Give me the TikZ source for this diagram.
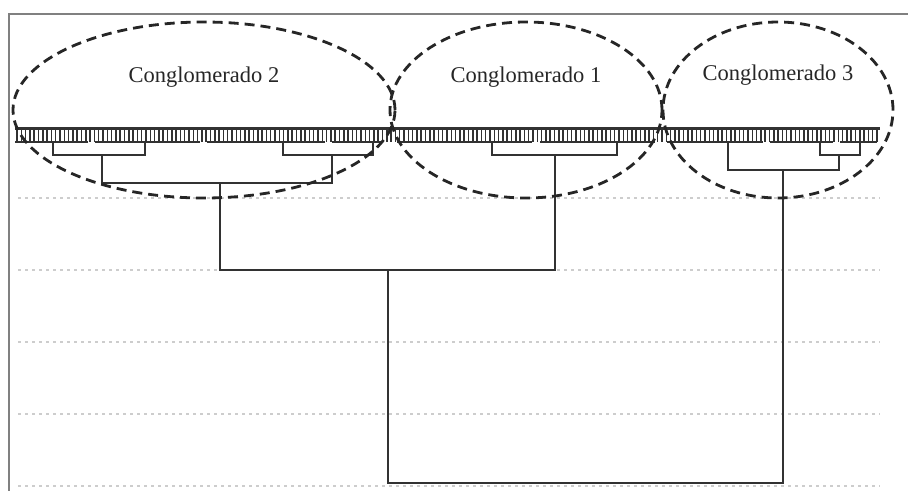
\documentclass[tikz,border=0pt]{standalone}
\usepackage{fontspec}
\setmainfont{Liberation Serif}
\usepackage{tikz}
\usetikzlibrary{positioning}
\usetikzlibrary{shapes.geometric}
\definecolor{framegray}{RGB}{128,128,128}
\definecolor{gridgray}{RGB}{205,205,205}
\definecolor{linkgray}{RGB}{50,50,50}
\tikzstyle{frameline}=[framegray, line width=2.2pt]
\tikzstyle{gridline}=[gridgray, line width=2.2pt, dash pattern=on 2.5pt off 4.5pt]
\tikzstyle{link}=[linkgray, line width=2.3pt]
\tikzstyle{leafline}=[linkgray, line width=1.4pt]
\tikzstyle{clusterline}=[draw, ellipse, black!85, line width=2.8pt, dash pattern=on 10pt off 6pt, inner sep=0pt]
\tikzstyle{clusterlabel}=[font=\fontsize{22.5}{26}\selectfont, black!85, inner sep=0pt]

\begin{document}
\begin{tikzpicture}[x=1pt, y=-1pt]
    \useasboundingbox (0,0) rectangle (908,491);
    % frame, only top and left edges show
    \draw[frameline] (908,14) -- (9,14) -- (9,491);
    % grid
    \foreach \gy in {198,270,342,414,486}
        \draw[gridline] (18,\gy) -- (880,\gy);
    % leaves
    \draw[leafline, line width=3pt] (15,128) -- (880,128);
    \foreach \tx in {17,21.3,...,878}
        \draw[leafline, line width=1.5pt] (\tx,128) -- (\tx,142);
    \foreach \sa/\sb in {15/88, 95/200, 207/325, 332/382, 397/532, 540/655, 667/763, 770/833, 840/877}
        \draw[leafline, line width=2.4pt] (\sa,142) -- (\sb,142);
    \coordinate (g1) at (53,142);
    \coordinate (g2) at (145,142);
    \coordinate (g3) at (283,142);
    \coordinate (g4) at (373,142);
    \coordinate (g5) at (492,142);
    \coordinate (g6) at (617,142);
    \coordinate (g7) at (728,142);
    \coordinate (g8) at (820,142);
    \coordinate (g9) at (860,142);
    % merges
    \coordinate (mA) at (102,155);
    \coordinate (mB) at (332,155);
    \coordinate (mC) at (220,183);
    \coordinate (mD) at (555,155);
    \coordinate (mE) at (388,270);
    \coordinate (mF) at (839,155);
    \coordinate (mG) at (783,170);
    \coordinate (mH) at (585,483);
    \draw[link] (g1) |- (mA) -| (g2);
    \draw[link] (g3) |- (mB) -| (g4);
    \draw[link] (mA) |- (mC) -| (mB);
    \draw[link] (g5) |- (mD) -| (g6);
    \draw[link] (mC) |- (mE) -| (mD);
    \draw[link] (g8) |- (mF) -| (g9);
    \draw[link] (g7) |- (mG) -| (mF);
    \draw[link, line width=2.8pt] (mE) |- (mH) -| (mG);
    % clusters
    \node[clusterline, minimum width=382pt, minimum height=176pt] (c2) at (204,110) {};
    \node[clusterline, minimum width=272pt, minimum height=176pt] (c1) at (526,110) {};
    \node[clusterline, minimum width=230pt, minimum height=176pt] (c3) at (778,110) {};
    \node[clusterlabel, above=22pt of c2.center] (t2) {Conglomerado 2};
    \node[clusterlabel, above=22pt of c1.center] (t1) {Conglomerado 1};
    \node[clusterlabel, above=24pt of c3.center] (t3) {Conglomerado 3};
\end{tikzpicture}
\end{document}
